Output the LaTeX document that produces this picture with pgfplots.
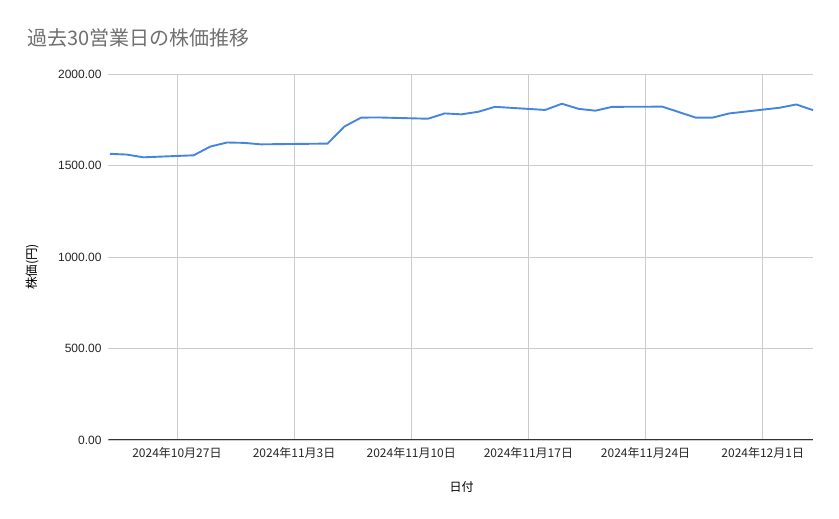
\documentclass[border=0pt]{standalone}
\usepackage{fontspec}
\setmainfont{Liberation Sans}
\newfontfamily\jp{Noto Sans CJK JP}
\usepackage{pgfplots}
\pgfplotsset{compat=1.18}
\definecolor{lineblue}{RGB}{70,132,226}
\definecolor{gridgray}{RGB}{204,204,204}
\definecolor{titlegray}{RGB}{112,112,112}

\begin{document}
\begin{tikzpicture}
\path[use as bounding box] (-108.3pt,-79pt) rectangle (730.7pt,440pt);
\begin{axis}[
  at={(0pt,0pt)}, anchor=south west,
  scale only axis, width=705pt, height=365.7pt,
  xmin=-4.1, xmax=38.02, ymin=0, ymax=2000,
  xtick={0,7,14,21,28,35},
  xticklabels={2024年10月27日,2024年11月3日,2024年11月10日,2024年11月17日,2024年11月24日,2024年12月1日},
  ytick={0,500,1000,1500,2000},
  /pgf/number format/fixed,
  /pgf/number format/fixed zerofill,
  /pgf/number format/precision=2,
  /pgf/number format/1000 sep={},
  /pgf/number format/assume math mode=true,
  yticklabel style={font=\fontsize{12}{14}\selectfont, text=black!85, anchor=east, inner sep=0pt, xshift=-6.6pt},
  xticklabel style={font=\jp\fontsize{12}{14}\selectfont, text=black!85, anchor=center, inner sep=0pt, yshift=-13pt},
  major tick length=0pt,
  axis line style={draw=none},
  grid=major, grid style={gridgray, line width=0.8pt},
]
\addplot[lineblue, line width=1.9pt, line join=round] coordinates {
  (-4,1565) (-3,1561) (-2,1546) (1,1557) (2,1605) (3,1627) (4,1625) (5,1617)
  (9,1621) (10,1714) (11,1763) (12,1764) (15,1757) (16,1786) (17,1781) (18,1795)
  (19,1822) (22,1805) (23,1839) (24,1811) (25,1801) (26,1822) (29,1823) (30,1793)
  (31,1763) (32,1763) (33,1786) (36,1817) (37,1835) (38,1804)
};
\draw[black!80, line width=1pt] (axis cs:-4.1,0) -- (axis cs:38.02,0);
\end{axis}
\node[anchor=west, inner sep=0pt, text=titlegray, font=\jp\fontsize{20}{24}\selectfont] at (-81.3pt,402pt) {過去30営業日の株価推移};
\node[rotate=90, inner sep=0pt, text=black, font=\jp\fontsize{12.5}{14}\selectfont] at (-75.5pt,173pt) {株価(円)};
\node[inner sep=0pt, text=black, font=\jp\fontsize{12}{14}\selectfont] at (353.4pt,-46.7pt) {日付};
\end{tikzpicture}
\end{document}
